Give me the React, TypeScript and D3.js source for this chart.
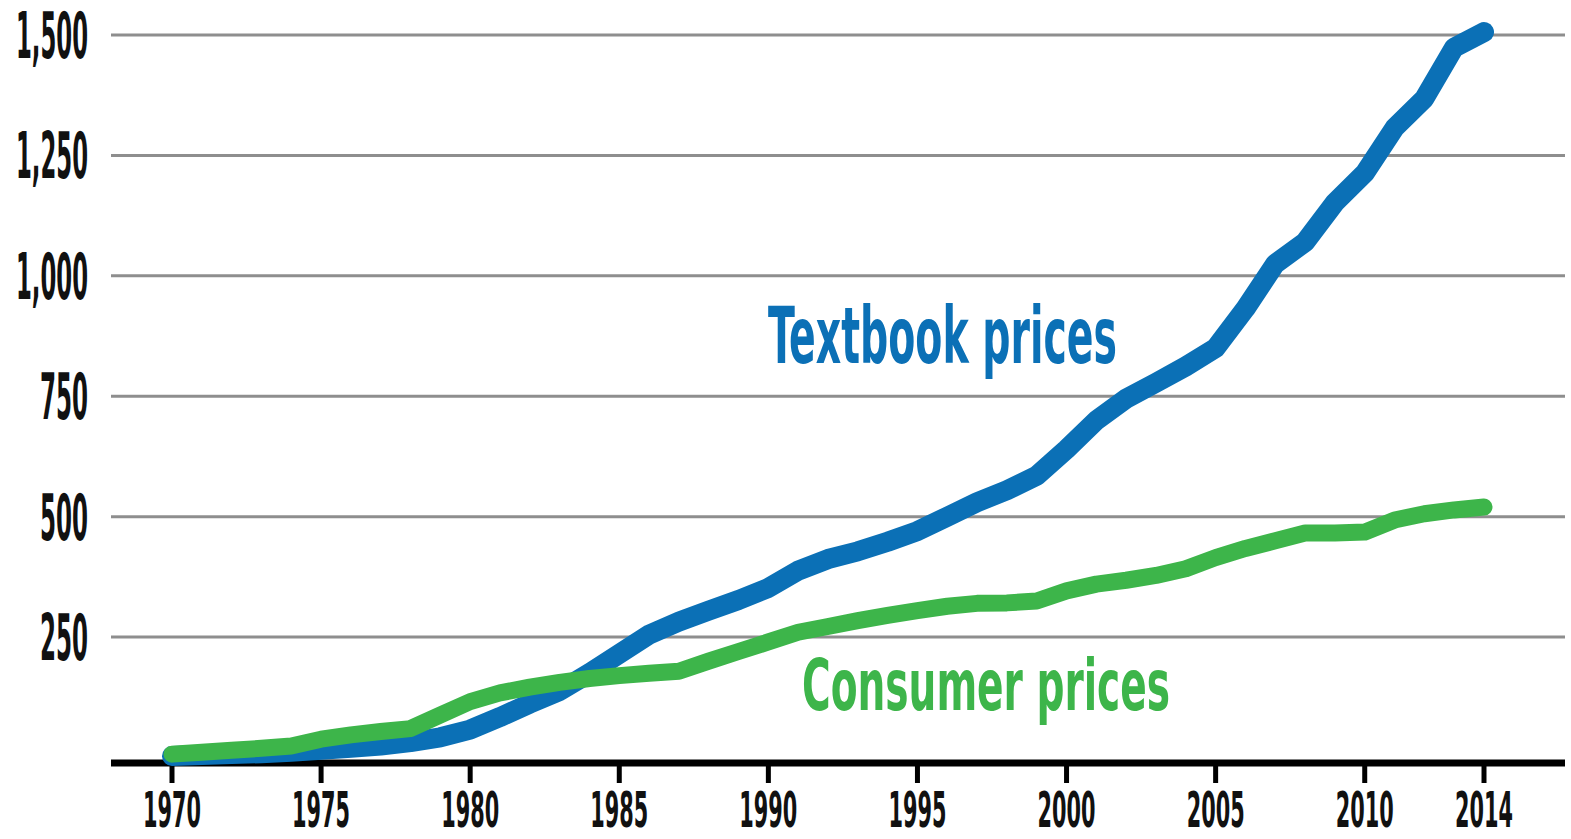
import React from 'react';
import * as d3 from 'd3';

// years on the x axis (annual points)
const years: number[] = d3.range(1970, 2015);

// values (index, 1970 = 0)
const textbookPrices: number[] = [
  3, 5, 7, 9, 12, 16, 20, 25, 32, 42,
  58, 84, 112, 138, 175, 215, 255, 282, 305, 327,
  352, 388, 412, 428, 448, 470, 500, 530, 555, 585,
  640, 700, 745, 778, 812, 850, 932, 1025, 1070, 1152,
  1213, 1307, 1368, 1474, 1506,
];

const consumerPrices: number[] = [
  7, 11, 15, 19, 24, 38, 47, 54, 60, 88,
  116, 134, 146, 156, 164, 170, 175, 179, 200, 220,
  240, 260, 272, 284, 295, 305, 314, 320, 321, 325,
  346, 360, 368, 378, 392, 415, 434, 450, 466, 466,
  468, 493, 506, 514, 520,
];

const yTicks: number[] = [250, 500, 750, 1000, 1250, 1500];
const xTicks: number[] = [1970, 1975, 1980, 1985, 1990, 1995, 2000, 2005, 2010, 2014];

const WIDTH = 1571;
const HEIGHT = 839;
const FONT = "'Liberation Sans Narrow', 'DejaVu Sans Condensed', 'Liberation Sans', Roboto, sans-serif";
const BLUE = '#0b70b6';
const GREEN = '#3db54a';
const GRID = '#8e8e8e';

const App: React.FC = () => {
  const x = d3.scaleLinear().domain([1970, 2014]).range([172, 1484]);
  const y = d3.scaleLinear().domain([0, 1500]).range([757.5, 35]);

  const line = d3
    .line<number>()
    .x((_, i) => x(years[i]))
    .y((d) => y(d))
    .curve(d3.curveLinear);

  const gridLeft = 111;
  const gridRight = 1565;
  const axisY = y(0) + 5.5;
  const fmt = d3.format(',');

  return (
    <svg
      width={WIDTH}
      height={HEIGHT}
      style={{ position: 'absolute', left: 0, top: 0, background: '#fff' }}>
      {/* horizontal gridlines */}
      {yTicks.map((t) => (
        <line
          key={'g' + t}
          x1={gridLeft}
          x2={gridRight}
          y1={y(t)}
          y2={y(t)}
          stroke={GRID}
          strokeWidth={3}
        />
      ))}

      {/* y tick labels */}
      {yTicks.map((t) => {
        const label = fmt(t);
        const digits = label.replace(/,/g, '').length;
        const commas = label.length - digits;
        return (
          <text
            key={'yl' + t}
            x={88}
            y={y(t) + 23}
            textAnchor="end"
            fontFamily={FONT}
            fontWeight="bold"
            fontSize={64}
            textLength={digits * 16 + commas * 8}
            lengthAdjust="spacingAndGlyphs"
            fill="#111">
            {label}
          </text>
        );
      })}

      {/* x axis */}
      <line x1={gridLeft} x2={gridRight} y1={axisY} y2={axisY} stroke="#000" strokeWidth={7} />
      {xTicks.map((t) => (
        <g key={'xt' + t}>
          <line x1={x(t)} x2={x(t)} y1={axisY} y2={axisY + 20} stroke="#000" strokeWidth={5} />
          <text
            x={x(t)}
            y={827}
            textAnchor="middle"
            fontFamily={FONT}
            fontWeight="bold"
            fontSize={50}
            textLength={58}
            lengthAdjust="spacingAndGlyphs"
            fill="#111">
            {t}
          </text>
        </g>
      ))}

      {/* series */}
      <path
        d={line(textbookPrices) || ''}
        fill="none"
        stroke={BLUE}
        strokeWidth={20}
        strokeLinejoin="round"
        strokeLinecap="round"
      />
      <path
        d={line(consumerPrices) || ''}
        fill="none"
        stroke={GREEN}
        strokeWidth={17}
        strokeLinejoin="round"
        strokeLinecap="round"
      />

      {/* direct labels */}
      <text
        x={768}
        y={363}
        fontFamily={FONT}
        fontWeight="bold"
        fontSize={78}
        textLength={349}
        lengthAdjust="spacingAndGlyphs"
        fill={BLUE}>
        Textbook prices
      </text>
      <text
        x={802}
        y={710}
        fontFamily={FONT}
        fontWeight="bold"
        fontSize={72}
        textLength={368}
        lengthAdjust="spacingAndGlyphs"
        fill={GREEN}>
        Consumer prices
      </text>
    </svg>
  );
};

export default App;
